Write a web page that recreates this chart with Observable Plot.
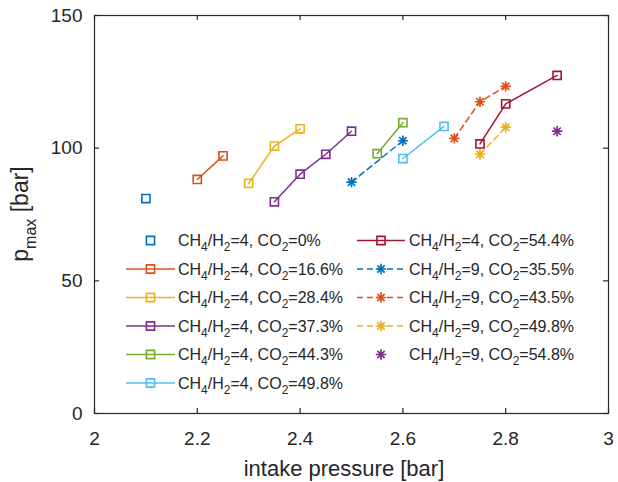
<!DOCTYPE html>
<html>
<head>
<meta charset="utf-8">
<script src="https://cdn.jsdelivr.net/npm/d3@7"></script>
<script src="https://cdn.jsdelivr.net/npm/@observablehq/plot@0.6"></script>
<style>
  html, body { margin: 0; padding: 0; background: #fff; }
  #chart { width: 618px; height: 482px; }
</style>
</head>
<body>
<div id="chart"></div>
<script>
// ---- data ----
const ratios = [4, 4, 4, 4, 4, 4, 4, 9, 9, 9, 9];
const co2 = ["0", "16.6", "28.4", "37.3", "44.3", "49.8", "54.4", "35.5", "43.5", "49.8", "54.8"];
const intake = [
  [2.1],
  [2.2, 2.25],
  [2.3, 2.35, 2.4],
  [2.35, 2.4, 2.45, 2.5],
  [2.55, 2.6],
  [2.6, 2.68],
  [2.75, 2.8, 2.9],
  [2.5, 2.6],
  [2.7, 2.75, 2.8],
  [2.75, 2.8],
  [2.9]
];
const pmax = [
  [81],
  [88.2, 97.1],
  [86.7, 100.8, 107.3],
  [79.8, 90.2, 97.7, 106.4],
  [97.9, 109.6],
  [96.1, 108.2],
  [101.6, 116.7, 127.4],
  [87.2, 102.8],
  [103.7, 117.5, 123.3],
  [97.7, 107.9],
  [106.4]
];
const colors = ["#0072BD", "#D95319", "#EDB120", "#7E2F8E", "#77AC30", "#4DBEEE", "#A2142F",
                "#0072BD", "#D95319", "#EDB120", "#7E2F8E"];
const markers = ["square", "square", "square", "square", "square", "square", "square",
                 "asterisk", "asterisk", "asterisk", "asterisk"];
const lineStyles = ["none", "solid", "solid", "solid", "solid", "solid", "solid",
                    "dashed", "dashed", "dashed", "none"];
const xTicks = [2, 2.2, 2.4, 2.6, 2.8, 3];
const yTicks = [0, 50, 100, 150];

// ---- build ----
const W = 618, H = 482;
const mL = 94, mR = 10, mT = 15, mB = 69;
const plotW = W - mL - mR, plotH = H - mT - mB;
const tickLen = 5;
const ink = "#262626";
const font = "'Liberation Sans', Arial, Helvetica, sans-serif";

const asterisk8 = {
  draw(ctx, size) {
    const r = Math.sqrt(size / Math.PI);
    const d = r * Math.SQRT1_2;
    ctx.moveTo(-r, 0); ctx.lineTo(r, 0);
    ctx.moveTo(0, -r); ctx.lineTo(0, r);
    ctx.moveTo(-d, -d); ctx.lineTo(d, d);
    ctx.moveTo(-d, d); ctx.lineTo(d, -d);
  }
};
const symbolOf = m => m === "square" ? "square" : asterisk8;
const rOf = m => m === "square" ? 4.6 : 5.2;
const dash = "6,4";

const marks = [];
intake.forEach((xsArr, s) => {
  const rows = xsArr.map((x, i) => ({x, y: pmax[s][i]}));
  if (lineStyles[s] !== "none") {
    marks.push(Plot.line(rows, {
      x: "x", y: "y", stroke: colors[s], strokeWidth: 1.5,
      strokeDasharray: lineStyles[s] === "dashed" ? dash : null
    }));
  }
  marks.push(Plot.dot(rows, {
    x: "x", y: "y", symbol: symbolOf(markers[s]), r: rOf(markers[s]),
    fill: "none", stroke: colors[s], strokeWidth: markers[s] === "square" ? 1.6 : 1.7
  }));
});

const chart = Plot.plot({
  width: W, height: H,
  marginLeft: mL, marginRight: mR, marginTop: mT, marginBottom: mB,
  style: {fontFamily: font, fontSize: "19px", color: ink, background: "#fff"},
  x: {domain: [2, 3], label: null},
  y: {domain: [0, 150], label: null},
  marks: [
    Plot.axisX({anchor: "bottom", ticks: xTicks, tickSize: 0, tickPadding: 18, tickFormat: d => String(d), fill: ink, label: null}),
    Plot.axisY({anchor: "left", ticks: yTicks, tickSize: 0, tickPadding: 12, tickFormat: d => String(d), fill: ink, label: null}),
    // inward ticks on all four sides (MATLAB box style)
    Plot.tickX(xTicks, {x: d => d, insetTop: plotH - tickLen, stroke: ink, strokeWidth: 1.2}),
    Plot.tickX(xTicks, {x: d => d, insetBottom: plotH - tickLen, stroke: ink, strokeWidth: 1.2}),
    Plot.tickY(yTicks, {y: d => d, insetRight: plotW - tickLen, stroke: ink, strokeWidth: 1.2}),
    Plot.tickY(yTicks, {y: d => d, insetLeft: plotW - tickLen, stroke: ink, strokeWidth: 1.2}),
    Plot.frame({stroke: ink, strokeWidth: 1.2}),
    ...marks
  ]
});
document.getElementById("chart").appendChild(chart);

// ---- labels & legend (added to the same SVG) ----
const svg = d3.select(chart);

function addSubText(sel, parts, sub) {
  parts.forEach(([t, isSub], i) => {
    const prevSub = i > 0 && parts[i - 1][1];
    const ts = sel.append("tspan").text(t);
    if (isSub) ts.attr("font-size", sub.size).attr("dy", sub.shift);
    else if (prevSub) ts.attr("dy", -sub.shift);
  });
}

// x label
svg.append("text")
  .attr("x", 344).attr("y", 476)
  .attr("text-anchor", "middle")
  .attr("font-family", font).attr("font-size", 22).attr("fill", ink)
  .text("intake pressure [bar]");

// y label
const yl = svg.append("text")
  .attr("transform", "translate(28,214) rotate(-90)")
  .attr("text-anchor", "middle")
  .attr("font-family", font).attr("font-size", 23).attr("fill", ink);
addSubText(yl, [["p", false], ["max", true], [" [bar]", false]], {size: 16, shift: 8});

// legend
const lg = svg.append("g").attr("font-family", font).attr("fill", ink).attr("text-anchor", "start");
const rowY0 = 240.5, rowStep = 28.5;
ratios.forEach((ratio, s) => {
  const col = s < 6 ? 0 : 1;
  const row = col === 0 ? s : s - 6;
  const x0 = col === 0 ? 126 : 357;
  const x1 = col === 0 ? 175 : 405;
  const mx = col === 0 ? 150.5 : 381;
  const tx = col === 0 ? 178 : 409;
  const y = rowY0 + rowStep * row;
  if (lineStyles[s] !== "none") {
    lg.append("line")
      .attr("x1", x0).attr("x2", x1).attr("y1", y).attr("y2", y)
      .attr("stroke", colors[s]).attr("stroke-width", 1.5)
      .attr("stroke-dasharray", lineStyles[s] === "dashed" ? dash : null);
  }
  const r = rOf(markers[s]);
  lg.append("path")
    .attr("transform", `translate(${mx},${y})`)
    .attr("d", d3.symbol(markers[s] === "square" ? d3.symbolSquare : asterisk8, Math.PI * r * r)())
    .attr("fill", "none").attr("stroke", colors[s])
    .attr("stroke-width", markers[s] === "square" ? 1.6 : 1.7);
  const t = lg.append("text").attr("x", tx).attr("y", y + 5.5).attr("font-size", 16).attr("text-anchor", "start");
  addSubText(t, [["CH", false], ["4", true], ["/H", false], ["2", true],
                 ["=" + ratio + ", CO", false], ["2", true], ["=" + co2[s] + "%", false]],
             {size: 12, shift: 5});
});
</script>
</body>
</html>
